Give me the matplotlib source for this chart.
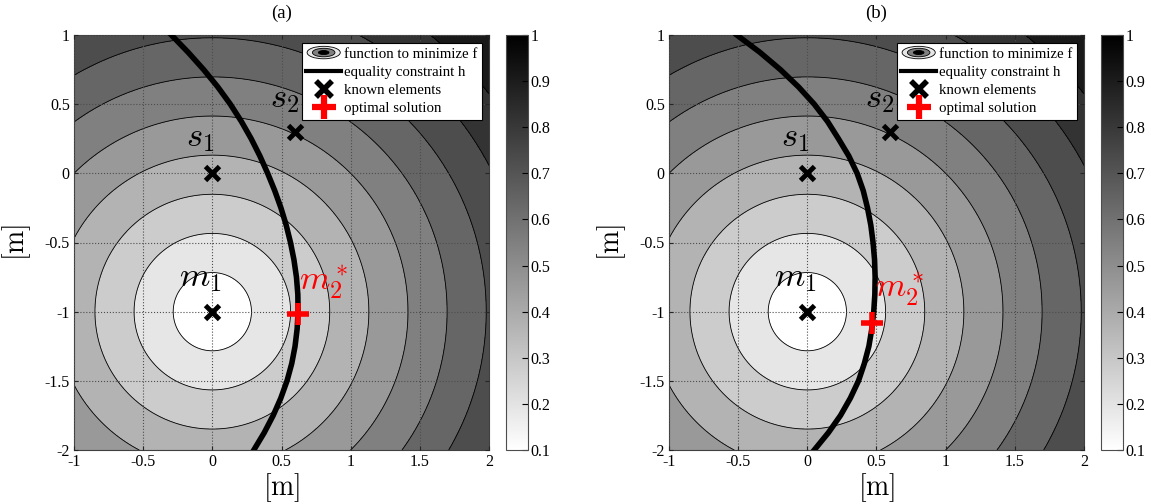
import numpy as np
import matplotlib.pyplot as plt
from matplotlib.legend_handler import HandlerBase
from matplotlib.patches import Ellipse
from matplotlib.lines import Line2D
from matplotlib.cm import ScalarMappable
from matplotlib.colors import Normalize

plt.rcParams['font.family'] = ['Liberation Serif', 'DejaVu Serif']
plt.rcParams['mathtext.fontset'] = 'cm'

# known elements
s1 = (0.0, 0.0)
s2 = (0.6, 0.3)
m1 = (0.0, -1.0)

# contour levels of f (normalised distance to m1)
levels = [0.1, 0.2, 0.3, 0.4, 0.5, 0.6, 0.7, 0.8, 0.9, 1.0]
cbar_labels = ['0.1', '0.2', '0.3', '0.4', '0.5', '0.6', '0.7', '0.8', '0.9', '1']

xticks = [-1, -0.5, 0, 0.5, 1, 1.5, 2]
xtick_labels = ['-1', '-0.5', '0', '0.5', '1', '1.5', '2']
yticks = [-2, -1.5, -1, -0.5, 0, 0.5, 1]
ytick_labels = ['-2', '-1.5', '-1', '-0.5', '0', '0.5', '1']

# equality constraint h
h_y = [1.0, 0.875, 0.75, 0.625, 0.5, 0.375, 0.25, 0.125, 0.0,
       -0.125, -0.25, -0.375, -0.5, -0.625, -0.75, -0.875, -1.0,
       -1.125, -1.25, -1.375, -1.5, -1.625, -1.75, -1.875, -2.0]
h_a_x = [-0.296, -0.175, -0.063, 0.039, 0.13, 0.21, 0.281, 0.344, 0.40,
         0.451, 0.496, 0.534, 0.565, 0.59, 0.608, 0.618, 0.62,
         0.613, 0.598, 0.574, 0.54, 0.495, 0.44, 0.375, 0.30]
h_b_x = [-0.51, -0.343, -0.195, -0.064, 0.05, 0.146, 0.225, 0.30, 0.36,
         0.404, 0.435, 0.459, 0.475, 0.486, 0.49, 0.488, 0.48,
         0.466, 0.445, 0.412, 0.37, 0.311, 0.24, 0.152, 0.05]

# optimal solutions
m2_a = (0.62, -1.02)
m2_b = (0.47, -1.08)

titles = ['(a)', '(b)']


class ContourProxy:
    pass


class ContourHandler(HandlerBase):
    def create_artists(self, legend, orig_handle, xdescent, ydescent,
                       width, height, fontsize, trans):
        cx = 0.5 * width - xdescent
        cy = 0.5 * height - ydescent
        arts = []
        for scale, fc in [(1.0, '#e6e6e6'), (0.68, '#808080'), (0.32, 'k')]:
            e = Ellipse((cx, cy), width * 0.95 * scale, height * 1.2 * scale,
                        facecolor=fc, edgecolor='k', lw=0.6, transform=trans)
            arts.append(e)
        return arts


xg = np.linspace(-1, 2, 401)
yg = np.linspace(-2, 1, 401)
X, Y = np.meshgrid(xg, yg)
D = np.hypot(X - m1[0], Y - m1[1])
F = D / D.max()

# each band takes the grey of its lower level
band_levels = [0.0] + levels
band_colors = [str(1 - lv) for lv in band_levels[:-1]]

fig = plt.figure(figsize=(11.51, 5.04), dpi=100)
W, H = 1151.0, 504.0
ax_lefts = [74, 669]
cb_lefts = [506, 1101]

panels = [(h_a_x, m2_a, (0.63, -0.92)),
          (h_b_x, m2_b, (0.49, -0.97))]

for i, (hx, m2, m2_txt) in enumerate(panels):
    ax = fig.add_axes([ax_lefts[i] / W, 54 / H, 415 / W, 415 / H])
    cax = fig.add_axes([cb_lefts[i] / W, 54 / H, 22 / W, 415 / H])

    ax.contourf(X, Y, F, levels=band_levels, colors=band_colors)
    ax.contour(X, Y, F, levels=levels, colors='k', linewidths=0.6)

    ax.set_axisbelow(False)
    ax.grid(True, linestyle=':', color='0.3', lw=0.8)

    ax.plot(hx, h_y, color='k', lw=4, zorder=3, solid_joinstyle='round')
    for p in (s1, s2, m1):
        ax.plot(p[0], p[1], marker='x', ms=10, mew=3.5, color='k', zorder=4)
    ax.plot(m2[0], m2[1], marker='+', ms=16, mew=4, color='red', zorder=4)

    ax.text(-0.19, 0.14, r'$s_1$', fontsize=25, ha='left', va='bottom', zorder=5)
    ax.text(0.42, 0.42, r'$s_2$', fontsize=25, ha='left', va='bottom', zorder=5)
    ax.text(-0.24, -0.87, r'$m_1$', fontsize=25, ha='left', va='bottom', zorder=5)
    ax.text(m2_txt[0], m2_txt[1], r'$m_2^*$', fontsize=25, color='red',
            ha='left', va='bottom', zorder=5)

    ax.set_xlim(-1, 2)
    ax.set_ylim(-2, 1)
    ax.set_xticks(xticks)
    ax.set_xticklabels(xtick_labels)
    ax.set_yticks(yticks)
    ax.set_yticklabels(ytick_labels)
    ax.tick_params(direction='in', top=True, right=True, length=3,
                   labelsize=11.5, colors='0.15', labelcolor='k', pad=3)
    for sp in ax.spines.values():
        sp.set_color('0.25')
        sp.set_linewidth(0.8)

    ax.set_title(titles[i], fontsize=13.5, pad=12)
    ax.set_xlabel(r'$[\mathrm{m}]$', fontsize=20, labelpad=1)
    ax.set_ylabel(r'$[\mathrm{m}]$', fontsize=20, labelpad=8)

    handles = [ContourProxy(),
               Line2D([], [], color='k', lw=3),
               Line2D([], [], color='k', marker='x', ls='none', ms=11, mew=4),
               Line2D([], [], color='red', marker='+', ls='none', ms=17, mew=4.5)]
    labels = ['function to minimize f', 'equality constraint h',
              'known elements', 'optimal solution']
    leg = ax.legend(handles, labels, loc='upper right',
                    bbox_to_anchor=(0.983, 0.981), borderaxespad=0,
                    fontsize=10.7, fancybox=False, framealpha=1,
                    edgecolor='k', handlelength=2.35, handletextpad=0.2,
                    labelspacing=0.32, borderpad=0.3,
                    handler_map={ContourProxy: ContourHandler()})
    leg.get_frame().set_linewidth(0.8)
    leg.set_zorder(10)

    sm = ScalarMappable(norm=Normalize(0.1, 1.0), cmap='gray_r')
    cb = fig.colorbar(sm, cax=cax, ticks=levels)
    cb.ax.set_yticklabels(cbar_labels)
    cb.ax.tick_params(direction='in', length=4, labelsize=11.5, pad=2)
    cb.outline.set_edgecolor('0.3')
    cb.outline.set_linewidth(0.8)

fig.savefig('out.png', dpi=100)
